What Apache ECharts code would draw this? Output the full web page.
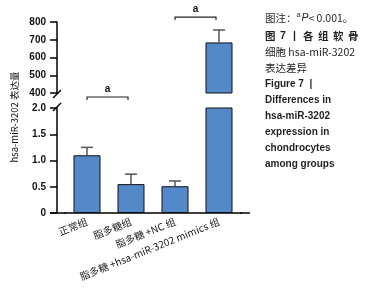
<!DOCTYPE html>
<html>
<head>
<meta charset="utf-8">
<script src="https://cdn.jsdelivr.net/npm/echarts@6/dist/echarts.min.js"></script>
<style>
  html, body { margin: 0; padding: 0; background: #fff; }
  #chart { width: 368px; height: 293px; }
</style>
</head>
<body>
<div id="chart"></div>
<script>
const categories = ["正常组", "脂多糖组", "脂多糖 +NC 组", "脂多糖 +hsa-miR-3202 mimics 组"];
const means = [1.1, 0.55, 0.51, 685];
const upper = [1.25, 0.74, 0.61, 755];
const topRange = [400, 800, 100];
const lowRange = [0, 2, 0.5];
// significance brackets: [from, to, height on its axis]
const sigLow = [[0, 1, 2.21]];
const sigTop = [[2, 3, 828]];
const sigText = "a";
const yName = "hsa-miR-3202 表达量";

const BAR = "#5389c8";
const FONT = "Liberation Sans, Arial, sans-serif";
const CJK = "Noto Sans CJK SC, sans-serif";

const chartDom = document.getElementById("chart");
const myChart = echarts.init(chartDom, null, { renderer: "canvas" });

const topData = means.map((v) => (v >= topRange[0] ? v : "-"));
const errTop = [], errLow = [];
means.forEach((v, i) => {
  if (v >= topRange[0]) errTop.push([i, v, upper[i]]);
  else errLow.push([i, v, upper[i]]);
});

const errRender = (params, api) => {
  const a = api.coord([api.value(0), api.value(1)]);
  const b = api.coord([api.value(0), api.value(2)]);
  const w = 6;
  const st = { stroke: "#555", lineWidth: 1.5 };
  return {
    type: "group",
    children: [
      { type: "line", shape: { x1: a[0], y1: a[1], x2: b[0], y2: b[1] }, style: st },
      { type: "line", shape: { x1: b[0] - w, y1: b[1], x2: b[0] + w, y2: b[1] }, style: st },
    ],
  };
};

const sigRender = (params, api) => {
  const a = api.coord([api.value(0), api.value(2)]);
  const b = api.coord([api.value(1), api.value(2)]);
  const x2 = b[0] - 3;
  return {
    type: "group",
    children: [
      {
        type: "polyline",
        shape: { points: [[a[0], a[1] + 3], [a[0], a[1]], [x2, a[1]], [x2, a[1] + 3]] },
        style: { stroke: "#222", lineWidth: 1.2, fill: null },
      },
      {
        type: "text",
        x: (a[0] + x2) / 2,
        y: a[1] - 8,
        style: { text: sigText, fill: "#111", font: "bold 10px " + FONT, align: "center", verticalAlign: "middle" },
      },
    ],
  };
};

const yAxisBase = {
  type: "value",
  offset: 8,
  splitLine: { show: false },
  axisLine: { show: true, lineStyle: { color: "#000", width: 1.5 } },
  axisTick: { show: true, length: 7, lineStyle: { color: "#000", width: 1.5 } },
  axisLabel: { color: "#111", fontWeight: "bold", fontSize: 10, fontFamily: FONT, margin: 11 },
};

// caption, one entry per line; tokens styled below
const captionLines = [
  { text: "{n|图注：}{s|a}{i|P}{n|< 0.001。}", y: 18 },
  { text: "{b1|图}{b2|7}{b3||}{c|各}{c|组}{c|软}{c|骨}", y: 36 },
  { text: "{n|细胞 hsa-miR-3202}", y: 52 },
  { text: "{n|表达差异}", y: 68 },
  { text: "{e|Figure 7  |}", y: 84 },
  { text: "{e|Differences in}", y: 100 },
  { text: "{e|hsa-miR-3202}", y: 116 },
  { text: "{e|expression in}", y: 132 },
  { text: "{e|chondrocytes}", y: 148 },
  { text: "{e|among groups}", y: 164 },
];
const ink = "#231f20";
const rich = {
  n: { font: "10.5px " + CJK, fill: ink },
  s: { font: "7px " + FONT, fill: ink, verticalAlign: "top", padding: [0, 1, 5, 0] },
  i: { font: "italic 10.5px " + FONT, fill: ink },
  b1: { font: "bold 10.5px " + CJK, fill: ink, width: 15 },
  b2: { font: "bold 10.5px " + FONT, fill: ink, width: 11 },
  b3: { font: "bold 10.5px " + FONT, fill: ink, width: 10, padding: [0, 0, 0, 2] },
  c: { font: "bold 10.5px " + CJK, fill: ink, width: 15 },
  e: { font: "bold 10px " + FONT, fill: ink },
};

myChart.setOption({
  animation: false,
  grid: [
    { left: 65, width: 176, top: 22, height: 71 },
    { left: 65, width: 176, top: 108, height: 105 },
  ],
  xAxis: [
    { gridIndex: 0, type: "category", data: categories, show: false },
    {
      gridIndex: 1,
      type: "category",
      data: categories,
      axisLine: { lineStyle: { color: "#000", width: 1.5 } },
      axisTick: { alignWithLabel: true, length: 5, lineStyle: { color: "#000", width: 1.5 } },
      axisLabel: { rotate: 22, interval: 0, color: "#1a1a1a", fontSize: 10, fontFamily: CJK, margin: 8 },
    },
  ],
  yAxis: [
    Object.assign({}, yAxisBase, { gridIndex: 0, min: topRange[0], max: topRange[1], interval: topRange[2] }),
    Object.assign({}, yAxisBase, {
      gridIndex: 1, min: lowRange[0], max: lowRange[1], interval: lowRange[2],
      axisLabel: Object.assign({}, yAxisBase.axisLabel, {
        formatter: (v) => (v === 0 ? "0" : v.toFixed(1)),
      }),
    }),
  ],
  series: [
    {
      type: "bar", xAxisIndex: 0, yAxisIndex: 0, data: topData, barWidth: 27,
      itemStyle: { color: BAR, borderColor: "#111", borderWidth: 1 },
    },
    {
      type: "bar", xAxisIndex: 1, yAxisIndex: 1, data: means, barWidth: 27, clip: true,
      itemStyle: { color: BAR, borderColor: "#111", borderWidth: 1 },
    },
    { type: "custom", xAxisIndex: 0, yAxisIndex: 0, data: errTop, renderItem: errRender, z: 5 },
    { type: "custom", xAxisIndex: 1, yAxisIndex: 1, data: errLow, renderItem: errRender, z: 5 },
    { type: "custom", xAxisIndex: 0, yAxisIndex: 0, data: sigTop, renderItem: sigRender, clip: false, z: 6 },
    { type: "custom", xAxisIndex: 1, yAxisIndex: 1, data: sigLow, renderItem: sigRender, clip: false, z: 6 },
  ],
});

// axis decorations: break marks on the y axis, x axis line overhang, y axis name, caption
const axisX = 65 - 8;
const yBreakTop = myChart.convertToPixel({ yAxisIndex: 0 }, topRange[0]);
const yBreakLow = myChart.convertToPixel({ yAxisIndex: 1 }, lowRange[1]);
const yZero = myChart.convertToPixel({ yAxisIndex: 1 }, 0);
const slash = (cy) => ({
  type: "line",
  shape: { x1: axisX - 4, y1: cy + 4, x2: axisX + 4, y2: cy - 4 },
  style: { stroke: "#000", lineWidth: 1.5 },
});

myChart.setOption({
  graphic: [
    slash(yBreakTop + 1),
    slash(yBreakLow - 1),
    { type: "line", shape: { x1: 50, y1: yZero, x2: 66, y2: yZero }, style: { stroke: "#000", lineWidth: 1.5 } },
    { type: "line", shape: { x1: 240, y1: yZero, x2: 250, y2: yZero }, style: { stroke: "#000", lineWidth: 1.5 } },
    {
      type: "text", x: 14, y: 117, rotation: Math.PI / 2,
      style: { text: yName, font: "9.5px " + CJK, fill: "#111", align: "center", verticalAlign: "middle" },
    },
  ].concat(captionLines.map((l) => ({
    type: "text", x: 265, y: l.y,
    style: { text: l.text, rich: rich, verticalAlign: "middle", font: "10px " + CJK },
  }))),
});
</script>
</body>
</html>
